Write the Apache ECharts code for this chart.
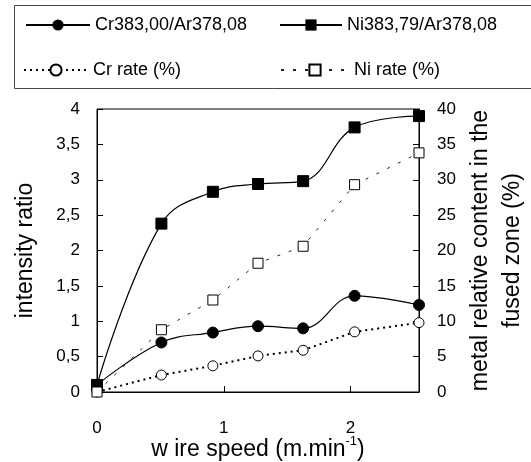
<!DOCTYPE html>
<html>
<head>
<meta charset="utf-8">
<script src="https://cdn.jsdelivr.net/npm/echarts@6/dist/echarts.min.js"></script>
<style>
  html, body { margin: 0; padding: 0; background: #fff; }
  #chart { width: 531px; height: 462px; }
</style>
</head>
<body>
<div id="chart"></div>
<script>
// Wire speed (m/min) and measured quantities
const speed = [0, 0.508, 0.914, 1.27, 1.626, 2.032, 2.54];
const crRatio = [0.1, 0.7, 0.84, 0.93, 0.9, 1.36, 1.23];
const niRatio = [0.1, 2.38, 2.83, 2.94, 2.98, 3.74, 3.9];
const crRate = [0, 2.4, 3.7, 5.1, 5.9, 8.5, 9.8];
const niRate = [0, 8.8, 13.0, 18.2, 20.6, 29.3, 33.8];

const seriesNames = ['Cr383,00/Ar378,08', 'Ni383,79/Ar378,08', 'Cr rate (%)', 'Ni rate (%)'];
const xTicks = [0, 1, 2];

const FONT = '"Liberation Sans", Arial, sans-serif';
const pairs = ys => speed.map((x, i) => [x, ys[i]]);
const comma = v => String(v).replace('.', ',');

const chart = echarts.init(document.getElementById('chart'), null, { renderer: 'canvas' });

const legendBase = {
  itemWidth: 64,
  itemHeight: 14,
  textStyle: { fontFamily: FONT, fontSize: 18, color: '#000' },
  selectedMode: false
};

chart.setOption({
  animation: false,
  backgroundColor: '#fff',
  graphic: [{
    type: 'rect',
    shape: { x: 14.5, y: 5.5, width: 530, height: 83 },
    style: { fill: 'none', stroke: '#444', lineWidth: 1 },
    z: 0
  }],
  legend: [
    Object.assign({}, legendBase, { data: [seriesNames[0]], left: 20, top: 11 }),
    Object.assign({}, legendBase, { data: [seriesNames[1]], left: 274, top: 11, itemWidth: 62 }),
    Object.assign({}, legendBase, { data: [seriesNames[2]], left: 18, top: 56 }),
    Object.assign({}, legendBase, { data: [seriesNames[3]], left: 275, top: 56, itemWidth: 68 })
  ],
  grid: {
    left: 97, right: 112, top: 109, bottom: 70,
    containLabel: false,
    outerBoundsMode: 'none',
    show: true, borderColor: '#000', borderWidth: 1, backgroundColor: 'transparent'
  },
  xAxis: {
    type: 'value',
    min: 0, max: 2.54, interval: 1,
    name: '{a|w ire speed (m.min}{s|-1}{a|)}',
    nameLocation: 'middle',
    nameGap: 43,
    nameMoveOverlap: false,
    nameTextStyle: {
      rich: {
        a: { fontFamily: FONT, fontSize: 23, color: '#000', verticalAlign: 'bottom', lineHeight: 26 },
        s: { fontFamily: FONT, fontSize: 13, color: '#000', verticalAlign: 'top', lineHeight: 26 }
      }
    },
    axisLine: { show: true, lineStyle: { color: '#000', width: 1 } },
    axisTick: { show: true, inside: true, length: 6, lineStyle: { color: '#000' } },
    axisLabel: {
      margin: 28, fontFamily: FONT, fontSize: 17, color: '#000',
      showMaxLabel: false,
      formatter: v => (xTicks.indexOf(v) >= 0 ? String(v) : '')
    },
    splitLine: { show: false }
  },
  yAxis: [
    {
      type: 'value',
      min: 0, max: 4, interval: 0.5,
      position: 'left',
      name: 'intensity ratio',
      nameLocation: 'middle',
      nameRotate: 90,
      nameGap: 60,
      nameMoveOverlap: false,
      nameTextStyle: { fontFamily: FONT, fontSize: 23, color: '#000' },
      axisLine: { show: true, lineStyle: { color: '#000', width: 1 } },
      axisTick: { show: true, inside: true, length: 6, lineStyle: { color: '#000' } },
      axisLabel: { margin: 17, fontFamily: FONT, fontSize: 17, color: '#000', formatter: comma },
      splitLine: { show: false }
    },
    {
      type: 'value',
      min: 0, max: 40, interval: 5,
      position: 'right',
      name: 'metal relative content in the\nfused zone (%)',
      nameLocation: 'middle',
      nameRotate: 90,
      nameGap: 46,
      nameMoveOverlap: false,
      nameTextStyle: { fontFamily: FONT, fontSize: 23, color: '#000', lineHeight: 32 },
      axisLine: { show: true, lineStyle: { color: '#000', width: 1 } },
      axisTick: { show: true, inside: true, length: 6, lineStyle: { color: '#000' } },
      axisLabel: { margin: 18, fontFamily: FONT, fontSize: 17, color: '#000' },
      splitLine: { show: false }
    }
  ],
  series: [
    {
      name: seriesNames[0], type: 'line', yAxisIndex: 0,
      data: pairs(crRatio), smooth: 0.4,
      symbol: 'circle', symbolSize: 11,
      itemStyle: { color: '#000', borderColor: '#000' },
      lineStyle: { color: '#000', width: 1.2, type: 'solid' }
    },
    {
      name: seriesNames[1], type: 'line', yAxisIndex: 0,
      data: pairs(niRatio), smooth: 0.4,
      symbol: 'rect', symbolSize: 11,
      itemStyle: { color: '#000', borderColor: '#000' },
      lineStyle: { color: '#000', width: 1.2, type: 'solid' }
    },
    {
      name: seriesNames[2], type: 'line', yAxisIndex: 1,
      data: pairs(crRate),
      symbol: 'circle', symbolSize: 10,
      itemStyle: { color: '#fff', borderColor: '#000', borderWidth: 1 },
      lineStyle: { color: '#000', width: 2, type: [2, 4] }
    },
    {
      name: seriesNames[3], type: 'line', yAxisIndex: 1,
      data: pairs(niRate),
      symbol: 'rect', symbolSize: 10,
      itemStyle: { color: '#fff', borderColor: '#000', borderWidth: 1 },
      lineStyle: { color: '#222', width: 1, type: [3, 9] }
    }
  ]
});
</script>
</body>
</html>
